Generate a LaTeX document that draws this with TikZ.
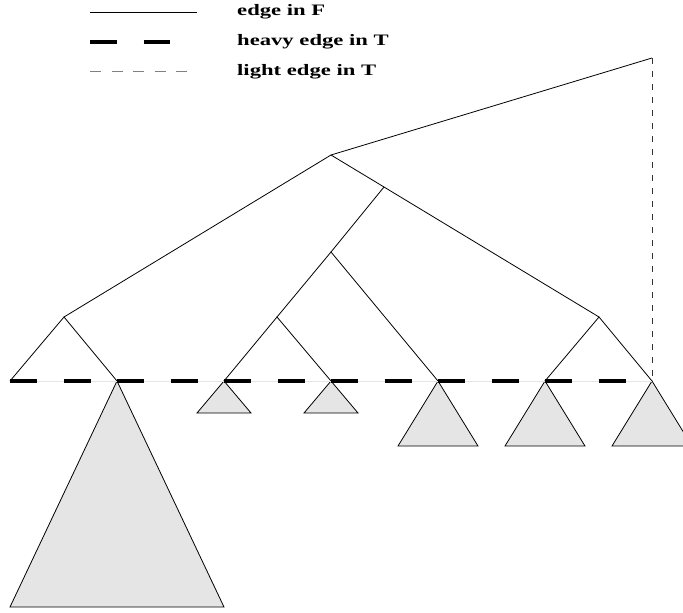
\documentclass[tikz,border=0pt]{standalone}
\usepackage{fontspec}
\setmainfont{Liberation Serif}
\begin{document}
\begin{tikzpicture}[x=1bp,y=-1bp,
  fedge/.style={black,line width=0.8bp},
  heavy/.style={black,line width=4.5bp,dash pattern=on 27bp off 26.5bp},
  heavybase/.style={black!10,line width=1bp},
  lightedge/.style={black!80,line width=1bp,dash pattern=on 6bp off 7bp},
  lightlegend/.style={black!50,line width=1bp,dash pattern=on 11bp off 10.5bp},
  subtree/.style={fill=black!10,draw=black,line width=0.8bp},
  lbl/.style={anchor=west,inner sep=0pt,font=\fontsize{16}{16}\selectfont\bfseries}]
\useasboundingbox (0,0) rectangle (683,613);
\clip (0,0) rectangle (683,613);
% legend
\coordinate (f1) at (90,12); \coordinate (f2) at (197,12);
\coordinate (h1) at (90,42); \coordinate (h2) at (170,42);
\coordinate (g1) at (90,72); \coordinate (g2) at (190,72);
\draw[fedge] (f1) -- (f2);
\draw[heavy] (h1) -- (h2);
\draw[lightlegend] (g1) -- (g2);
\node[lbl] (t1) at (237,12) {\scalebox{1.42}[1]{edge in F}};
\node[lbl] (t2) at (237,42) {\scalebox{1.42}[1]{heavy edge in T}};
\node[lbl] (t3) at (237,72) {\scalebox{1.42}[1]{light edge in T}};
% leaves
\foreach \i in {0,...,6} {\coordinate (l\i) at (10+107*\i,381);}
\coordinate (A) at (64,317);
\coordinate (B) at (277,317);
\coordinate (C) at (331,252);
\coordinate (D) at (384,187);
\coordinate (E) at (599,317);
\coordinate (R) at (331,155);
\coordinate (top) at (652,58);
% subtrees
\draw[subtree] (l1) -- ++(-107,226) -- ++(214,0) -- cycle;
\foreach \i in {2,3} {\draw[subtree] (l\i) -- ++(-27,32) -- ++(54,0) -- cycle;}
\foreach \i in {4,5,6} {\draw[subtree] (l\i) -- ++(-40,65) -- ++(80,0) -- cycle;}
% tree edges
\draw[fedge] (l0) -- (A) -- (l1);
\draw[fedge] (l2) -- (B) -- (l3);
\draw[fedge] (B) -- (C) -- (l4);
\draw[fedge] (C) -- (D);
\draw[fedge] (l5) -- (E) -- (l6);
\draw[fedge] (A) -- (R) -- (D) -- (E);
\draw[fedge] (R) -- (top);
\draw[lightedge] (top) -- (l6);
% heavy path
\draw[heavybase] (l0) -- (l6);
\draw[heavy] (l0) -- (l6);
\end{tikzpicture}
\end{document}
